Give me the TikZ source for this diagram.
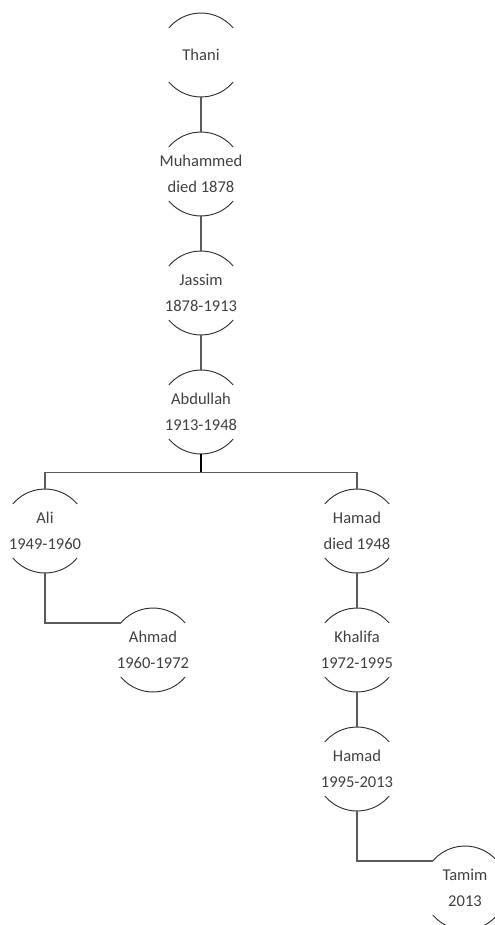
\documentclass[tikz,border=0pt]{standalone}
\usepackage{fontspec}
\setmainfont{Carlito}
\usetikzlibrary{positioning}

\definecolor{txtgrey}{HTML}{404040}
\definecolor{arcgrey}{HTML}{303030}
\definecolor{linegrey}{HTML}{5A5A5A}

\tikzset{
  person/.style={rectangle, minimum width=63pt, minimum height=63pt, inner sep=0pt,
    align=center, text=txtgrey, font=\fontsize{12.4}{19.5}\selectfont},
  link/.style={draw=linegrey, line width=0.8pt},
  rim/.style={draw=arcgrey, line width=0.7pt}
}

% top and bottom arcs of a person, plus the upper left end of the top arc
\newcommand{\personarcs}[1]{%
  \draw[rim] ([shift={(40:31.5pt)}]#1.center) arc (40:140:31.5pt);
  \draw[rim] ([shift={(220:31.5pt)}]#1.center) arc (220:320:31.5pt);
  \coordinate (#1-tl) at ([shift={(140:31.5pt)}]#1.center);
}

\begin{document}
\begin{tikzpicture}[node distance=89.25pt]
    \useasboundingbox (-150.75pt,41.25pt) rectangle (219.75pt,-652.5pt);

    \node[person] (thani) {Thani};
    \node[person, below of=thani] (muhammed) {Muhammed\\died 1878};
    \node[person, below of=muhammed] (jassim) {Jassim\\1878-1913};
    \node[person, below of=jassim] (abdullah) {Abdullah\\1913-1948};
    \node[person, below of=abdullah, xshift=-117pt] (ali) {Ali\\1949-1960};
    \node[person, below of=abdullah, xshift=117pt] (hamad) {Hamad\\died 1948};
    \node[person, below of=ali, xshift=81pt] (ahmad) {Ahmad\\1960-1972};
    \node[person, below of=hamad] (khalifa) {Khalifa\\1972-1995};
    \node[person, below of=khalifa] (hamadii) {Hamad\\1995-2013};
    \node[person, below of=hamadii, xshift=81pt] (tamim) {Tamim\\2013};

    \foreach \p in {thani,muhammed,jassim,abdullah,ali,hamad,ahmad,khalifa,hamadii,tamim}{
        \personarcs{\p}
    }

    \coordinate (bar) at ([yshift=-13.5pt]abdullah.south);

    \draw[link] (thani) -- (muhammed);
    \draw[link] (muhammed) -- (jassim);
    \draw[link] (jassim) -- (abdullah);
    \draw[line width=1.4pt] (abdullah.south) -- (bar);
    \draw[link] (ali.north) |- (bar) -| (hamad.north);
    \draw[link] (ali.south) |- (ahmad-tl);
    \draw[link] (hamad) -- (khalifa);
    \draw[link] (khalifa) -- (hamadii);
    \draw[link] (hamadii.south) |- (tamim-tl);
\end{tikzpicture}
\end{document}
